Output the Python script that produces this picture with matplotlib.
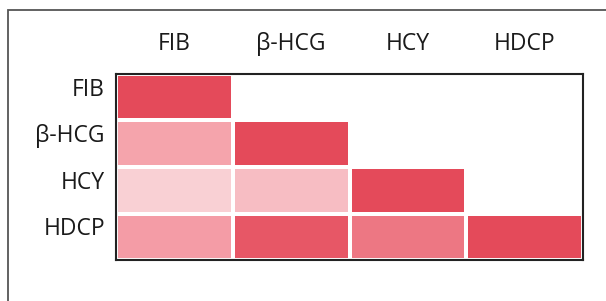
import numpy as np
import matplotlib
matplotlib.use("Agg")
import matplotlib.pyplot as plt
import matplotlib.transforms as mtransforms
from matplotlib.colors import LinearSegmentedColormap
from matplotlib.patches import Rectangle

labels = ["FIB", "β-HCG", "HCY", "HDCP"]
# lower-triangular correlation strengths (upper triangle empty)
row_fib = [1.00, np.nan, np.nan, np.nan]
row_hcg = [0.48, 1.00, np.nan, np.nan]
row_hcy = [0.22, 0.33, 1.00, np.nan]
row_hdcp = [0.52, 0.92, 0.74, 1.00]

M = np.array([row_fib, row_hcg, row_hcy, row_hdcp])
Mm = np.ma.masked_invalid(M)

cmap = LinearSegmentedColormap.from_list(
    "wr", [(0.0, "#ffffff"), (0.2, "#f9d3d7"), (0.5, "#f5a0a9"), (1.0, "#e44a5a")])

W, H = 606, 301
fig = plt.figure(figsize=(W / 100, H / 100), dpi=100)
fig.patch.set_facecolor("white")

# outer frame
fig.patches.append(Rectangle((8 / W, -0.1), 1.2, (H - 10) / H + 0.1,
                             transform=fig.transFigure, fill=False,
                             edgecolor="#555555", linewidth=1.3))

ax = fig.add_axes([116 / W, 1 - 260 / H, (583 - 116) / W, (260 - 74) / H])
ax.pcolormesh(np.arange(5), np.arange(5), Mm, cmap=cmap, vmin=0, vmax=1,
              edgecolors="white", linewidth=1.5)
ax.set_xlim(0, 4)
ax.set_ylim(4, 0)
ax.set_xticks(np.arange(4) + 0.5)
ax.set_yticks(np.arange(4) + 0.5)
ax.set_xticklabels(labels)
ax.set_yticklabels(labels)
ax.xaxis.tick_top()
ax.tick_params(length=0, labelsize=16.5, colors="#1a1a1a")
ax.tick_params(axis="x", pad=13)
ax.tick_params(axis="y", pad=8)
for lab in ax.get_xticklabels() + ax.get_yticklabels():
    lab.set_family(["Open Sans", "DejaVu Sans"])
shift = mtransforms.ScaledTranslation(0, 10.5 / 100, fig.dpi_scale_trans)
for lab in ax.get_yticklabels():
    lab.set_transform(lab.get_transform() + shift)
for s in ax.spines.values():
    s.set_edgecolor("#222222")
    s.set_linewidth(1.5)

fig.savefig("out.png", dpi=100)
